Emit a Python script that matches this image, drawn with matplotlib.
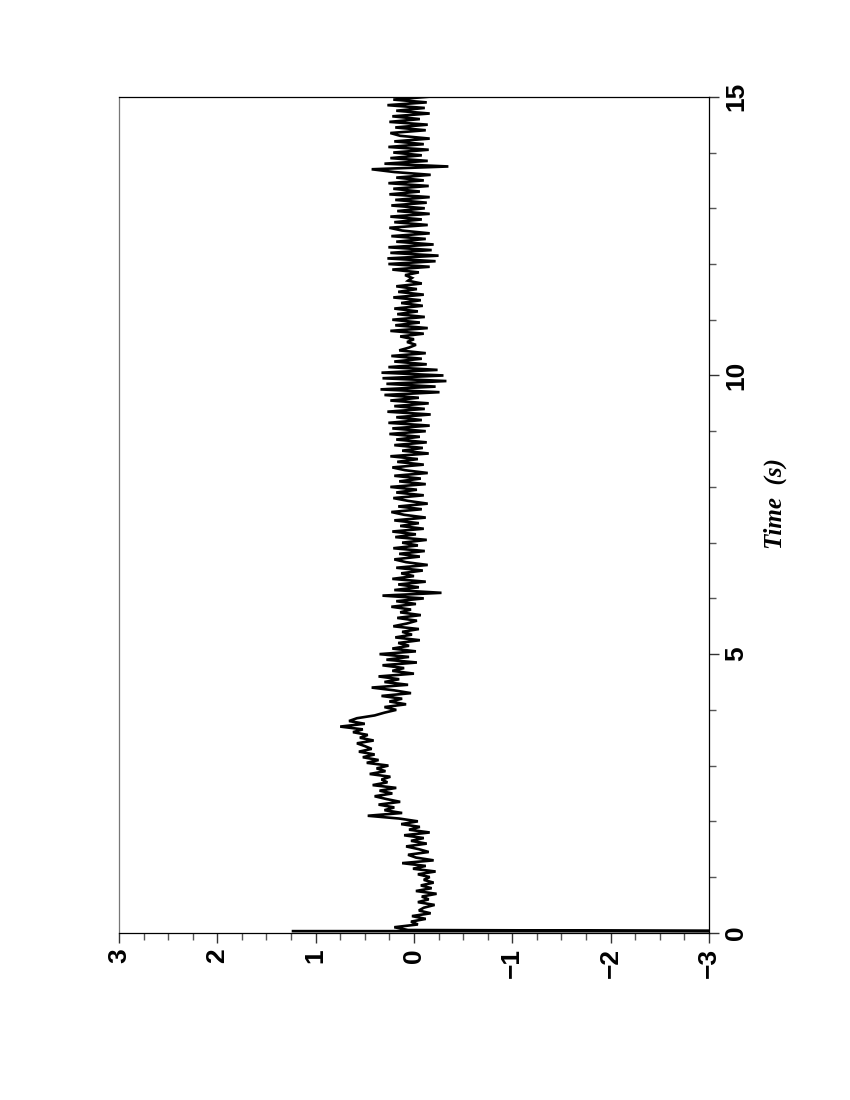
import numpy as np
import matplotlib.pyplot as plt

# Start of the record: a short spike that runs off the axis
t_start = [0.03, 0.03]
v_start = [1.23, -4.0]

# Regular samples every 0.05 s, one row per second (t = 0.05 ... 15.0)
dt = 0.05
v_sec = [
    [0.06, 0.20, -0.04, 0.03, -0.12, 0.02, -0.17, -0.05, -0.10, -0.21, -0.04, -0.15, -0.08, -0.23, -0.02, -0.18, -0.07, -0.20, -0.10, -0.16],
    [-0.04, -0.22, 0.01, -0.12, 0.12, -0.20, -0.02, 0.06, -0.15, -0.05, 0.08, -0.13, 0.03, -0.10, 0.10, -0.16, 0.05, -0.06, 0.13, -0.04],
    [0.15, 0.47, 0.12, 0.30, 0.20, 0.36, 0.14, 0.28, 0.40, 0.22, 0.35, 0.18, 0.42, 0.27, 0.33, 0.24, 0.45, 0.29, 0.38, 0.26],
    [0.48, 0.36, 0.52, 0.40, 0.56, 0.43, 0.50, 0.58, 0.41, 0.55, 0.47, 0.62, 0.52, 0.75, 0.50, 0.66, 0.58, 0.40, 0.30, 0.18],
    [0.30, 0.08, 0.25, 0.12, 0.33, 0.03, 0.20, 0.43, 0.06, 0.30, 0.15, 0.36, 0.00, 0.22, 0.10, 0.32, -0.03, 0.28, 0.05, 0.35],
    [-0.02, 0.22, 0.05, 0.16, -0.06, 0.19, 0.02, 0.12, -0.05, 0.21, 0.07, -0.03, 0.17, -0.07, 0.14, 0.03, 0.23, -0.02, 0.18, -0.10],
    [0.32, -0.28, 0.20, -0.05, 0.16, -0.12, 0.22, 0.00, 0.13, -0.09, 0.18, -0.14, 0.08, 0.20, -0.06, 0.15, -0.11, 0.21, -0.04, 0.12],
    [-0.13, 0.19, -0.02, 0.22, -0.10, 0.14, -0.05, 0.20, -0.12, 0.10, 0.23, -0.08, 0.16, -0.14, 0.06, 0.21, -0.10, 0.18, -0.03, 0.24],
    [-0.12, 0.15, -0.07, 0.20, -0.14, 0.09, 0.22, -0.10, 0.17, -0.04, 0.24, -0.15, 0.12, -0.09, 0.20, -0.13, 0.18, -0.06, 0.25, -0.12],
    [0.22, -0.16, 0.26, -0.08, 0.18, -0.17, 0.27, -0.11, 0.20, -0.15, 0.24, -0.05, 0.30, -0.26, 0.34, -0.22, 0.28, -0.33, 0.32, -0.30],
    [0.33, -0.24, 0.26, -0.13, 0.20, -0.08, 0.23, -0.12, 0.15, 0.05, -0.02, 0.07, 0.00, 0.14, -0.10, 0.24, -0.14, 0.19, -0.06, 0.22],
    [-0.11, 0.17, -0.04, 0.20, -0.09, 0.13, -0.07, 0.21, -0.10, 0.16, -0.03, 0.18, -0.08, 0.06, 0.02, 0.09, -0.05, 0.22, -0.16, 0.26],
    [-0.22, 0.27, -0.25, 0.24, -0.18, 0.26, -0.20, 0.18, -0.12, 0.23, -0.16, 0.12, 0.25, -0.14, 0.20, -0.08, 0.24, -0.16, 0.17, -0.11],
    [0.23, -0.13, 0.19, -0.16, 0.25, -0.06, 0.21, -0.15, 0.26, -0.10, 0.18, -0.17, 0.20, 0.43, -0.35, 0.30, -0.14, 0.24, -0.08, 0.21],
    [-0.15, 0.26, -0.10, 0.20, -0.16, 0.14, 0.24, -0.12, 0.19, -0.14, 0.25, -0.06, 0.22, -0.16, 0.18, -0.11, 0.27, -0.13, 0.21, -0.14],
]

value_ticks = [3, 2, 1, 0, -1, -2, -3]
time_ticks = [0, 5, 10, 15]

values = np.concatenate([v_start, np.concatenate(v_sec)])
n = sum(len(r) for r in v_sec)
times = np.concatenate([t_start, dt * np.arange(1, n + 1)])

# The whole chart is turned 90 degrees: time runs upwards, value runs right-to-left
fig = plt.figure(figsize=(8.5, 11), dpi=100)
ax = fig.add_axes([0.140, 0.152, 0.694, 0.760])
ax.plot(values, times, color='black', lw=1.9, solid_joinstyle='miter')

ax.set_xlim(3, -3)
ax.set_ylim(0, 15)

ax.set_xticks(value_ticks)
ax.set_xticks(np.arange(-3, 3.01, 0.25), minor=True)
ax.set_xticklabels([str(v).replace('-', '\u2212') for v in value_ticks],
                   rotation=90, va='top', ha='center',
                   fontfamily='Liberation Sans', fontweight='bold', fontsize=19)

ax.yaxis.tick_right()
ax.set_yticks(time_ticks)
ax.set_yticks(range(0, 16), minor=True)
ax.set_yticklabels([str(t) for t in time_ticks], rotation=90, va='center', ha='left',
                   fontfamily='Liberation Sans', fontweight='bold', fontsize=19)

ax.tick_params(which='major', length=7, width=1, color='#333333', pad=4)
ax.tick_params(which='minor', length=5, width=1, color='#555555')
ax.tick_params(axis='y', which='both', right=True, left=False)
ax.tick_params(axis='x', which='both', top=False, bottom=True)

for s in ax.spines.values():
    s.set_linewidth(0.9)
ax.spines['left'].set_color('#777777')

ax.text(1.112, 0.514, 'Time  (s)', transform=ax.transAxes, rotation=90,
        ha='center', va='center', fontfamily='Liberation Serif',
        fontstyle='italic', fontweight='bold', fontsize=18)

fig.savefig('out.png', dpi=100)
